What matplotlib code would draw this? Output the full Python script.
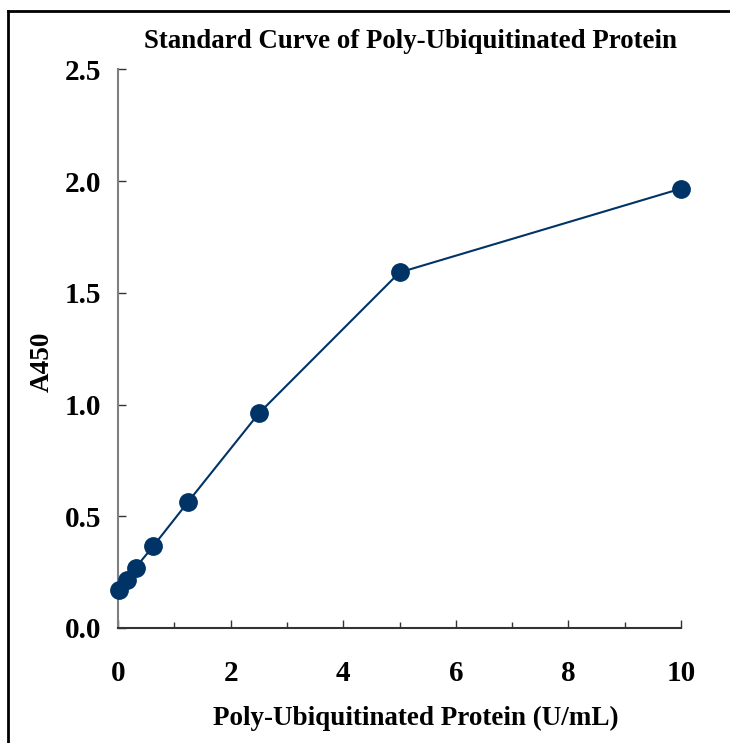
import matplotlib
matplotlib.use("Agg")
import matplotlib.pyplot as plt
from matplotlib.ticker import MultipleLocator
from matplotlib.lines import Line2D

concentration = [0.02, 0.156, 0.3125, 0.625, 1.25, 2.5, 5, 10]
a450 = [0.169, 0.215, 0.270, 0.366, 0.566, 0.960, 1.591, 1.966]
x_ticks = [0, 2, 4, 6, 8, 10]
y_ticks = [0.0, 0.5, 1.0, 1.5, 2.0, 2.5]
title = "Standard Curve of Poly-Ubiquitinated Protein"
xlabel = "Poly-Ubiquitinated Protein (U/mL)"
ylabel = "A450"

plt.rcParams['font.family'] = ['Liberation Serif', 'DejaVu Serif']
plt.rcParams['font.weight'] = 'bold'

fig = plt.figure(figsize=(7.30, 7.43), dpi=100)
ax = fig.add_axes([118/730, 1 - 628/743, (681-118)/730, (628-69.3)/743])

navy = '#003366'
ax.plot(concentration, a450, color=navy, lw=1.5, marker='o', ms=12.5,
        markerfacecolor=navy, markeredgecolor=navy, clip_on=False, zorder=3)

ax.set_xlim(0, 10)
ax.set_ylim(0, 2.5)
ax.set_xticks(x_ticks)
ax.set_xticklabels([str(t) for t in x_ticks])
ax.xaxis.set_minor_locator(MultipleLocator(1))
ax.set_yticks(y_ticks)
ax.set_yticklabels([f"{t:.1f}" for t in y_ticks])

ax.spines['top'].set_visible(False)
ax.spines['right'].set_visible(False)
ax.spines['left'].set_color('#808080')
ax.spines['left'].set_linewidth(1.5)
ax.spines['bottom'].set_color('#333333')
ax.spines['bottom'].set_linewidth(1.5)

ax.tick_params(axis='x', which='major', direction='in', length=6, width=1,
               color='#333333', pad=23, labelsize=21)
ax.tick_params(axis='x', which='minor', direction='in', length=4, width=1,
               color='#333333')
ax.tick_params(axis='y', which='major', direction='in', length=6, width=1,
               color='#333333', pad=12, labelsize=21)

for lbl in ax.get_xticklabels() + ax.get_yticklabels():
    lbl.set_fontweight('bold')

fig.text(411/730, 1 - 42/743, title, ha='center', va='center', fontsize=19.4,
         fontweight='bold')
fig.text(416/730, 1 - 718/743, xlabel, ha='center', va='center', fontsize=19.5,
         fontweight='bold')
fig.text(42/730, 1 - 362/743, ylabel, ha='center', va='center', fontsize=19.5,
         fontweight='bold', rotation=90)

# outer frame (left and top edges)
fig.add_artist(Line2D([7.5/730, 7.5/730], [0, 1 - 11/743], color='black', lw=2,
                      transform=fig.transFigure))
fig.add_artist(Line2D([7.5/730, 1], [1 - 11/743, 1 - 11/743], color='black', lw=2,
                      transform=fig.transFigure))

fig.savefig('out.png', dpi=100)
